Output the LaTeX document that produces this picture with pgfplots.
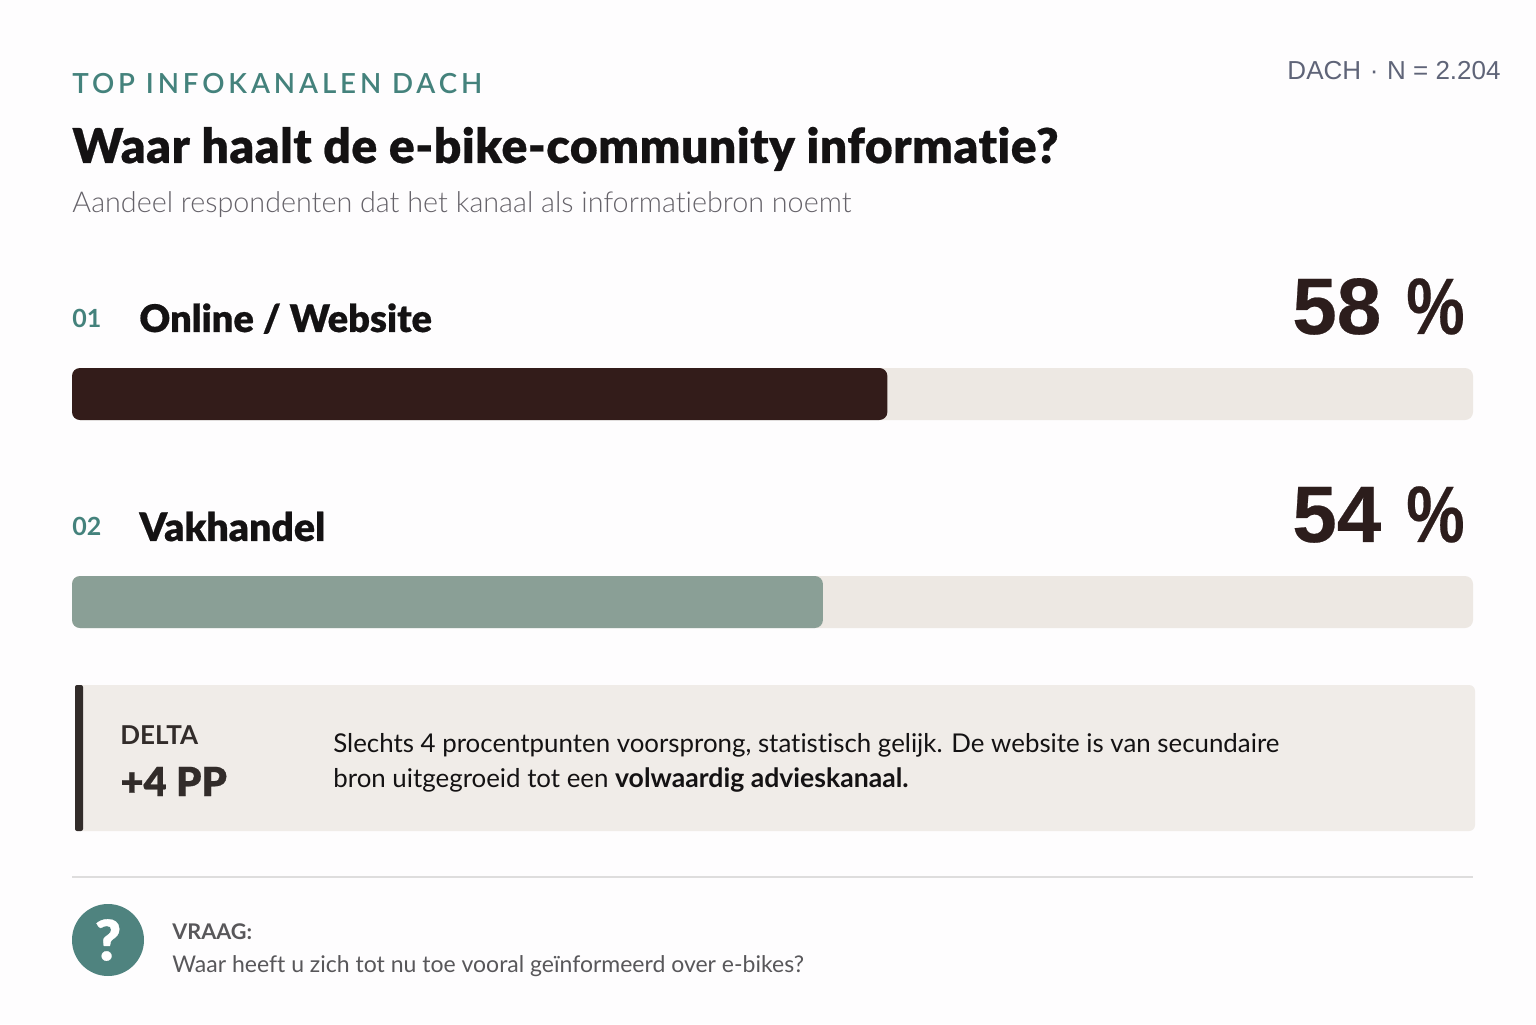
\documentclass[border=0pt]{standalone}
\usepackage{fontspec}
\usepackage{graphicx}
\usepackage{pgfplots}
\pgfplotsset{compat=1.18}
\setmainfont{Lato}[Ligatures=NoCommon]
\newfontfamily\lblack{Lato Black}[Ligatures=NoCommon,FakeBold=0.5]
\newfontfamily\ltitle{Lato Black}[Ligatures=NoCommon,FakeBold=0.5,LetterSpace=1.1]
\newfontfamily\llight{Lato Light}[Ligatures=NoCommon]
\newfontfamily\lbold{Lato}[UprightFont=*-Bold,Ligatures=NoCommon]
\newfontfamily\leyebrow{Lato Semibold}[LetterSpace=14]
\newfontfamily\lsans{Liberation Sans}
\newfontfamily\lsansb{Liberation Sans Bold}[FakeBold=0.3]
\definecolor{pagebg}{HTML}{FEFDFE}
\definecolor{teal}{HTML}{44827C}
\definecolor{titlec}{HTML}{141213}
\definecolor{subc}{HTML}{656269}
\definecolor{metac}{HTML}{5F6478}
\definecolor{darkbar}{HTML}{331C1A}
\definecolor{sage}{HTML}{8A9F96}
\definecolor{track}{HTML}{EDE8E3}
\definecolor{callbg}{HTML}{F0ECE8}
\definecolor{stripe}{HTML}{322C2A}
\definecolor{valc}{HTML}{2C1D1C}
\definecolor{rulec}{HTML}{DEDDDD}
\definecolor{circ}{HTML}{4F837F}
\definecolor{qc}{HTML}{58575A}
\newcommand{\fs}[1]{\fontsize{#1}{#1}\selectfont}
\newcommand{\val}[1]{\lsansb\fs{40}#1\hspace{12.5pt}\scalebox{0.82}[1]{\%}}
\begin{document}
\begin{tikzpicture}
\begin{scope}[x=0.5pt,y=-0.5pt,yshift=512pt]
\fill[pagebg] (0,0) rectangle (1536,1024);
\path[use as bounding box] (0,0) rectangle (1536,1024);
% header
\node[anchor=base west,inner sep=0,text=teal] at (72,94) {\leyebrow\fs{13.85}TOP INFOKANALEN DACH};
\node[anchor=base west,inner sep=0,text=titlec] at (72,163) {\ltitle\fs{24}Waar haalt de e-bike-community informatie?};
\node[anchor=base west,inner sep=0,text=subc] at (72,213) {\llight\fs{14.37}Aandeel respondenten dat het kanaal als informatiebron noemt};
\node[anchor=base east,inner sep=0,text=metac] at (1501,80) {\lsans\fs{13}DACH\,\,·\,\,N = 2.204};
% row labels
\node[anchor=base west,inner sep=0,text=teal] at (72,328) {\lbold\fs{12.5}01};
\node[anchor=base west,inner sep=0,text=titlec] at (139,332) {\lblack\fs{19}Online / Website};
\node[anchor=base east,inner sep=0,text=valc] at (1465,334) {\val{58}};
\node[anchor=base west,inner sep=0,text=teal] at (72,536) {\lbold\fs{12.5}02};
\node[anchor=base west,inner sep=0,text=titlec] at (139,541) {\lblack\fs{19.6}Vakhandel};
\node[anchor=base east,inner sep=0,text=valc] at (1465,542) {\val{54}};
% callout
\fill[callbg,rounded corners=3pt] (76,685) rectangle (1475,831);
\fill[stripe,rounded corners=1pt] (75,685) rectangle (83,831);
\node[anchor=base west,inner sep=0,text=stripe] at (120,744) {\lbold\fs{13}DELTA};
\node[anchor=base west,inner sep=0,text=stripe] at (120,796) {\lblack\fs{20}+4 PP};
\node[anchor=base west,inner sep=0,text=titlec] at (333,752) {\fs{12.93}Slechts 4 procentpunten voorsprong, statistisch gelijk. De website is van secundaire};
\node[anchor=base west,inner sep=0,text=titlec] at (333,787) {\fs{12.93}bron uitgegroeid tot een {\lbold\fs{13.3}volwaardig advieskanaal.}};
% footer
\draw[rulec,line width=1pt] (72,877) -- (1473,877);
\fill[circ] (108,940) circle (36);
\node[text=white,inner sep=0] at (108,940) {\lblack\fs{28}?};
\node[anchor=base west,inner sep=0,text=qc] at (172,939) {\lbold\fs{10.8}VRAAG:};
\node[anchor=base west,inner sep=0,text=qc] at (172,972) {\fs{11.5}Waar heeft u zich tot nu toe vooral geïnformeerd over e-bikes?};
\end{scope}
% bars: lengths as drawn in the reference (labelled 58 % and 54 %)
\begin{axis}[
  at={(36pt,159pt)},anchor=south west,
  scale only axis,width=700.5pt,height=208pt,
  xmin=0,xmax=100,ymin=-0.5,ymax=1.5,y dir=reverse,
  hide axis,xbar,bar width=26pt,bar shift=0pt,clip=false]
\addplot[fill=track,draw=none,rounded corners=4pt] coordinates {(100,0) (100,1)};
\addplot[fill=darkbar,draw=none,rounded corners=4pt] coordinates {(58.2,0)};
\addplot[fill=sage,draw=none,rounded corners=4pt] coordinates {(53.6,1)};
\end{axis}
\end{tikzpicture}
\end{document}
